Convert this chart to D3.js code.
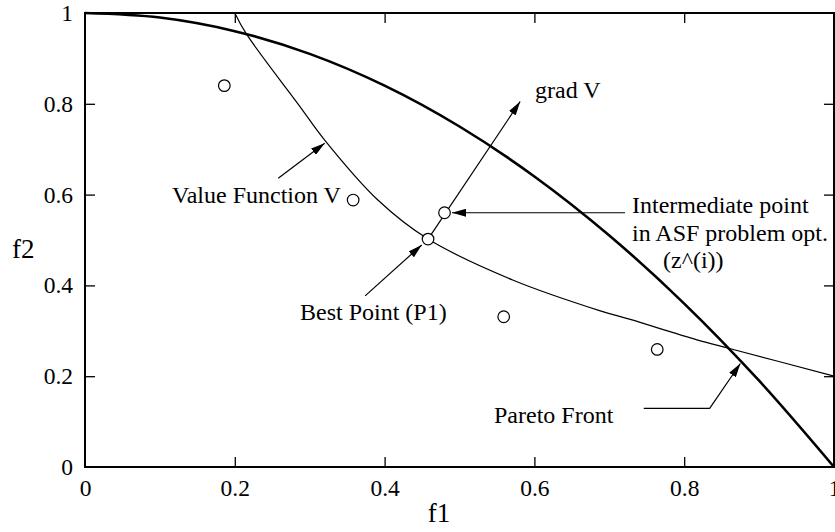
<!DOCTYPE html>
<html>
<head>
<meta charset="utf-8">
<script src="https://cdn.jsdelivr.net/npm/d3@7"></script>
<style>
  html, body { margin: 0; padding: 0; background: #fff; }
  svg { display: block; }
  text { font-family: "Liberation Serif", "Times New Roman", serif; fill: #000; }
</style>
</head>
<body>
<svg id="chart" width="835" height="532"></svg>
<script>
// Pareto front (f1, f2)
const paretoF1 = [0, 0.1, 0.2, 0.3, 0.4, 0.5, 0.6, 0.7, 0.8, 0.9, 1.0];
const paretoF2 = [1.0, 0.99, 0.96, 0.91, 0.84, 0.75, 0.64, 0.51, 0.36, 0.19, 0.0];

// Value function contour through the best point
const valueF1 = [0.2, 0.215, 0.287, 0.32, 0.391, 0.458, 0.571, 0.688, 0.728, 0.817, 0.863, 1.0];
const valueF2 = [1.0, 0.955, 0.794, 0.72, 0.588, 0.502, 0.412, 0.344, 0.325, 0.28, 0.26, 0.2];

// Candidate solutions (open circles)
const pointF1 = [0.186, 0.358, 0.559, 0.764];
const pointF2 = [0.84, 0.588, 0.331, 0.259];

// Best point P1 and intermediate point z^(i)
const bestPoint = [0.458, 0.502];
const interPoint = [0.48, 0.56];

// Gradient of V, drawn from the best point
const gradTip = [0.581, 0.805];

// Tick values
const tickValues = [0, 0.2, 0.4, 0.6, 0.8, 1];
const tickLabels = ["0", "0.2", "0.4", "0.6", "0.8", "1"];

const W = 835, H = 532;
const margin = { left: 85, right: 1, top: 13, bottom: 65 };
const svg = d3.select("#chart");

const x = d3.scaleLinear().domain([0, 1]).range([margin.left, W - margin.right]);
const y = d3.scaleLinear().domain([0, 1]).range([H - margin.bottom, margin.top]);

const TICK_FONT = 23.5;
const LABEL_FONT = 24;

// arrowhead marker
const defs = svg.append("defs");
defs.append("marker")
  .attr("id", "head")
  .attr("viewBox", "0 0 14 8")
  .attr("refX", 14).attr("refY", 4)
  .attr("markerWidth", 14).attr("markerHeight", 8)
  .attr("markerUnits", "userSpaceOnUse")
  .attr("orient", "auto")
  .append("path").attr("d", "M0,0 L14,4 L0,8 Z").attr("fill", "#000");

// axes: inward ticks on all four sides
const inner = tickValues.filter(v => v > 0 && v < 1);
const fmt = d => tickLabels[tickValues.indexOf(d)];

const axBottom = svg.append("g")
  .attr("transform", `translate(0,${y(0)})`)
  .call(d3.axisBottom(x).tickValues(tickValues).tickFormat(fmt).tickSize(-10).tickSizeOuter(0).tickPadding(12));
const axLeft = svg.append("g")
  .attr("transform", `translate(${x(0)},0)`)
  .call(d3.axisLeft(y).tickValues(tickValues).tickFormat(fmt).tickSize(-10).tickSizeOuter(0).tickPadding(12));
const axTop = svg.append("g")
  .attr("transform", `translate(0,${y(1)})`)
  .call(d3.axisTop(x).tickValues(inner).tickFormat("").tickSize(-10).tickSizeOuter(0));
const axRight = svg.append("g")
  .attr("transform", `translate(${x(1)},0)`)
  .call(d3.axisRight(y).tickValues(inner).tickFormat("").tickSize(-10).tickSizeOuter(0));

[axBottom, axLeft, axTop, axRight].forEach(g => {
  g.select(".domain").remove();
  g.selectAll(".tick line").attr("stroke", "#000").attr("stroke-width", 1.3);
  g.selectAll(".tick text")
    .style("font-family", '"Liberation Serif", "Times New Roman", serif')
    .style("font-size", TICK_FONT + "px").attr("fill", "#000");
});
// end ticks at the frame corners are not drawn
axBottom.selectAll(".tick line").filter(d => d === 0 || d === 1).remove();
axLeft.selectAll(".tick line").filter(d => d === 0 || d === 1).remove();

// frame
svg.append("rect")
  .attr("x", x(0)).attr("y", y(1))
  .attr("width", x(1) - x(0)).attr("height", y(0) - y(1))
  .attr("fill", "none").attr("stroke", "#000").attr("stroke-width", 2);

// axis titles
svg.append("text").attr("x", 439).attr("y", 522)
  .attr("text-anchor", "middle").style("font-size", "27px").text("f1");
svg.append("text").attr("x", 12).attr("y", 258)
  .style("font-size", "27px").text("f2");

// curves
const curveLine = d3.line().x(d => x(d[0])).y(d => y(d[1])).curve(d3.curveCatmullRom.alpha(0.5));
const paretoData = paretoF1.map((v, i) => [v, paretoF2[i]]);
const valueData = valueF1.map((v, i) => [v, valueF2[i]]);

svg.append("path").datum(valueData)
  .attr("d", curveLine)
  .attr("fill", "none").attr("stroke", "#000").attr("stroke-width", 1.2);

svg.append("path").datum(paretoData)
  .attr("d", curveLine)
  .attr("fill", "none").attr("stroke", "#000").attr("stroke-width", 2.6);

// grad V arrow
svg.append("line")
  .attr("x1", x(bestPoint[0])).attr("y1", y(bestPoint[1]))
  .attr("x2", x(gradTip[0])).attr("y2", y(gradTip[1]))
  .attr("stroke", "#000").attr("stroke-width", 1.2)
  .attr("marker-end", "url(#head)");

// annotation leaders (data coordinates)
const leaders = [
  [[0.258, 0.636], [0.320, 0.713]],                  // Value Function V
  [[0.374, 0.377], [0.4495, 0.489]],                 // Best Point
  [[0.721, 0.56], [0.49, 0.56]],                     // Intermediate point
  [[0.746, 0.129], [0.834, 0.129], [0.875, 0.228]]   // Pareto Front
];
const straight = d3.line().x(d => x(d[0])).y(d => y(d[1]));
leaders.forEach(pts => {
  svg.append("path")
    .attr("d", straight(pts))
    .attr("fill", "none").attr("stroke", "#000").attr("stroke-width", 1.2)
    .attr("marker-end", "url(#head)");
});

// open circles
const allPoints = pointF1.map((v, i) => [v, pointF2[i]]).concat([bestPoint, interPoint]);
svg.selectAll("circle.pt").data(allPoints).enter().append("circle")
  .attr("class", "pt")
  .attr("cx", d => x(d[0])).attr("cy", d => y(d[1]))
  .attr("r", 5.8)
  .attr("fill", "#fff").attr("stroke", "#000").attr("stroke-width", 1.2);

// labels
const labels = [
  { t: "grad V", x: 535, y: 98 },
  { t: "Value Function V", x: 172, y: 203 },
  { t: "Best Point (P1)", x: 300, y: 320 },
  { t: "Intermediate point", x: 632, y: 213 },
  { t: "in ASF problem opt.", x: 632, y: 241 },
  { t: "(z^(i))", x: 663, y: 268 },
  { t: "Pareto Front", x: 494, y: 423 }
];
svg.selectAll("text.lbl").data(labels).enter().append("text")
  .attr("class", "lbl")
  .attr("x", d => d.x).attr("y", d => d.y)
  .style("font-size", LABEL_FONT + "px")
  .text(d => d.t);
</script>
</body>
</html>
